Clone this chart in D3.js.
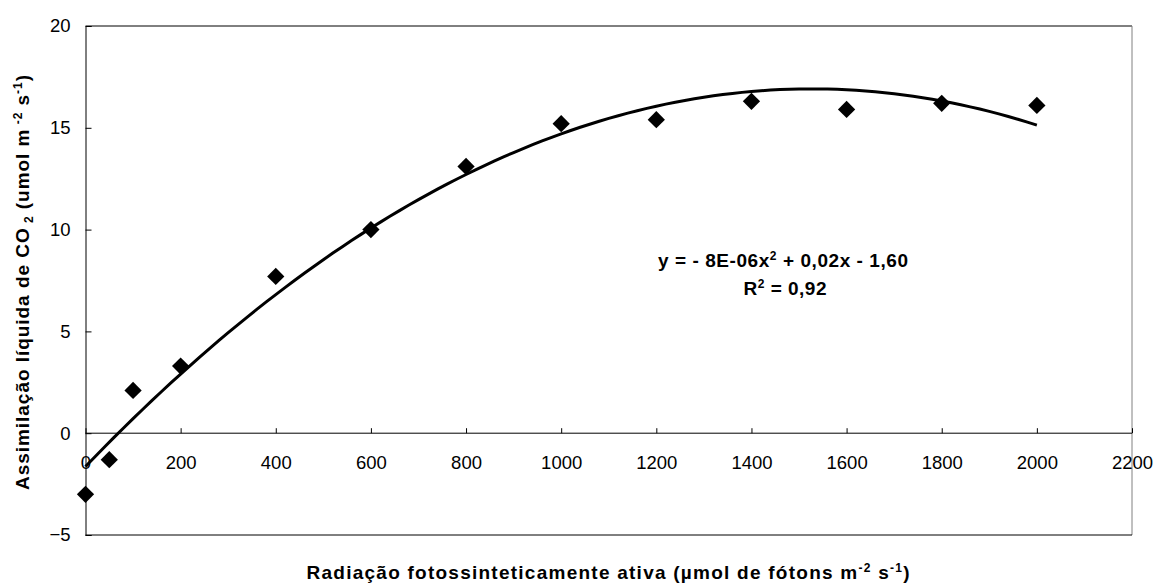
<!DOCTYPE html>
<html><head><meta charset="utf-8">
<script src="https://cdn.jsdelivr.net/npm/d3@7"></script>
<style>body{margin:0;background:#fff}svg{display:block}text{font-family:"Liberation Sans",Arial,sans-serif}</style>
</head><body>
<svg id="c" width="1157" height="585"></svg>
<script>
const radiation = [0, 50, 100, 200, 400, 600, 800, 1000, 1200, 1400, 1600, 1800, 2000];
const assimilation = [-3.0, -1.3, 2.1, 3.3, 7.7, 10.0, 13.1, 15.2, 15.4, 16.3, 15.9, 16.2, 16.1];
const xTicks = [0, 200, 400, 600, 800, 1000, 1200, 1400, 1600, 1800, 2000, 2200];
const yTicks = [-5, 0, 5, 10, 15, 20];
const equationLines = ["y = - 8E-06x", "R", "= 0,92"];

const svg = d3.select("#c");
const L = 85.5, R = 1132, T = 26, B = 535;
const x = d3.scaleLinear().domain([0, 2200]).range([L, R]);
const y = d3.scaleLinear().domain([-5, 20]).range([B, T]);

// Frame
svg.append("line").attr("x1", L).attr("x2", R).attr("y1", T).attr("y2", T).attr("stroke", "#000").attr("stroke-width", 1);
svg.append("line").attr("x1", R).attr("x2", R).attr("y1", T).attr("y2", B).attr("stroke", "#808080").attr("stroke-width", 1);
svg.append("line").attr("x1", L).attr("x2", R).attr("y1", B).attr("y2", B).attr("stroke", "#000").attr("stroke-width", 1);

// Y axis
const yAxis = d3.axisLeft(y).tickValues(yTicks).tickSize(-6).tickPadding(15).tickFormat(d3.format("d"));
const gy = svg.append("g").attr("transform", `translate(${L},0)`).call(yAxis);
gy.select(".domain").attr("stroke", "#000");
gy.selectAll(".tick line").attr("stroke", "#000");
gy.selectAll(".tick text").attr("font-size", 18.5).attr("fill", "#000").attr("font-family", "Liberation Sans, Arial, sans-serif");

// X axis at y=0
const xAxis = d3.axisBottom(x).tickValues(xTicks).tickSize(-5).tickPadding(15).tickFormat(d3.format("d"));
const gx = svg.append("g").attr("transform", `translate(0,${y(0)})`).call(xAxis);
gx.select(".domain").attr("stroke", "#000").attr("d", `M${L},0H${R}`);
gx.selectAll(".tick line").attr("stroke", "#000");
gx.selectAll(".tick text").attr("font-size", 18.5).attr("fill", "#000").attr("font-family", "Liberation Sans, Arial, sans-serif")
  .attr("y", 36).attr("dy", 0);

// Quadratic least-squares trendline from the data
function polyfit2(xs, ys) {
  const n = xs.length;
  let S = [0,0,0,0,0], T2 = [0,0,0];
  for (let i = 0; i < n; i++) {
    let p = 1;
    for (let k = 0; k < 5; k++) { S[k] += p; if (k < 3) T2[k] += p * ys[i]; p *= xs[i]; }
  }
  const A = [[S[0],S[1],S[2],T2[0]],[S[1],S[2],S[3],T2[1]],[S[2],S[3],S[4],T2[2]]];
  for (let i = 0; i < 3; i++) {
    for (let j = i + 1; j < 3; j++) {
      const f = A[j][i] / A[i][i];
      for (let k = i; k < 4; k++) A[j][k] -= f * A[i][k];
    }
  }
  const c = [0,0,0];
  for (let i = 2; i >= 0; i--) {
    let s = A[i][3];
    for (let k = i + 1; k < 3; k++) s -= A[i][k] * c[k];
    c[i] = s / A[i][i];
  }
  return c;
}
const coef = polyfit2(radiation, assimilation);
const trend = d3.range(0, 2001, 20).map(v => [v, coef[0] + coef[1]*v + coef[2]*v*v]);
svg.append("path").datum(trend)
  .attr("d", d3.line().x(d => x(d[0])).y(d => y(d[1])))
  .attr("fill", "none").attr("stroke", "#000").attr("stroke-width", 3);

// Points: diamonds
const sym = d3.symbol().type(d3.symbolDiamond2 || d3.symbolDiamond).size(190);
svg.append("g").selectAll("path").data(radiation).join("path")
  .attr("transform", (d, i) => `translate(${x(d)},${y(assimilation[i])})`)
  .attr("d", sym).attr("fill", "#000");

// Equation
const eq = svg.append("g").attr("font-weight", "bold").attr("font-size", 19).attr("fill", "#000");
const t1 = eq.append("text").attr("x", 783).attr("y", 267).attr("text-anchor", "middle")
  .attr("textLength", 250).attr("lengthAdjust", "spacing");
t1.append("tspan").text(equationLines[0]);
t1.append("tspan").attr("dy", -7).attr("font-size", 12).text("2");
t1.append("tspan").attr("dy", 7).text(" + 0,02x - 1,60");
const t2 = eq.append("text").attr("x", 785).attr("y", 295).attr("text-anchor", "middle")
  .attr("textLength", 83).attr("lengthAdjust", "spacing");
t2.append("tspan").text(equationLines[1]);
t2.append("tspan").attr("dy", -7).attr("font-size", 12).text("2");
t2.append("tspan").attr("dy", 7).text(" " + equationLines[2]);

// X label
const xl = svg.append("text").attr("x", 608).attr("y", 579).attr("text-anchor", "middle")
  .attr("font-weight", "bold").attr("font-size", 19)
  .attr("textLength", 603).attr("lengthAdjust", "spacing");
xl.append("tspan").text("Radiação fotossinteticamente ativa (µmol de fótons m");
xl.append("tspan").attr("dy", -7).attr("font-size", 12).text("-2");
xl.append("tspan").attr("dy", 7).text(" s");
xl.append("tspan").attr("dy", -7).attr("font-size", 12).text("-1");
xl.append("tspan").attr("dy", 7).text(")");

// Y label
const yl = svg.append("text").attr("transform", "translate(29,282.5) rotate(-90)").attr("text-anchor", "middle")
  .attr("font-weight", "bold").attr("font-size", 19)
  .attr("textLength", 415).attr("lengthAdjust", "spacing");
yl.append("tspan").text("Assimilação líquida de CO");
yl.append("tspan").attr("dy", 4).attr("font-size", 12).text(" 2");
yl.append("tspan").attr("dy", -4).text(" (umol m");
yl.append("tspan").attr("dy", -7).attr("font-size", 12).text(" -2");
yl.append("tspan").attr("dy", 7).text(" s");
yl.append("tspan").attr("dy", -7).attr("font-size", 12).text("-1");
yl.append("tspan").attr("dy", 7).text(")");
</script>
</body></html>
